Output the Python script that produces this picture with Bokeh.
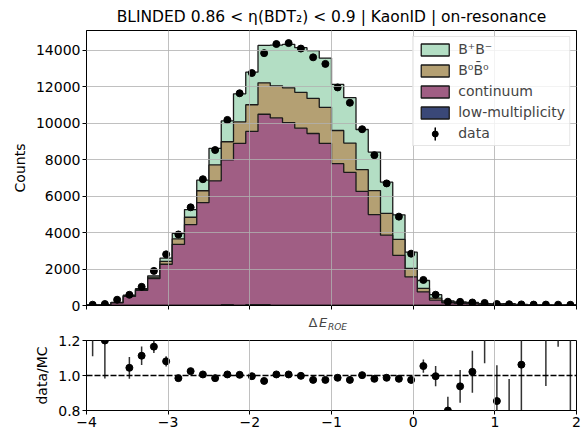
import numpy as np
from bokeh.plotting import figure
from bokeh.layouts import column
from bokeh.models import (Range1d, FixedTicker, Legend, LegendItem, Label, Span,
                          PrintfTickFormatter)
from bokeh.embed import file_html
from bokeh.resources import INLINE

# Binning of the Delta E_ROE histogram
x_lo, x_hi, n_bins = -4.0, 2.0, 40
edges = np.linspace(x_lo, x_hi, n_bins + 1)
centers = 0.5 * (edges[:-1] + edges[1:])

# Simulated components per bin (stacked bottom -> top)
low_mult = [0, 0, 0, 0, 0, 0, 0, 0, 0, 0, 0, 40, 0, 40, 40, 0, 0, 0, 0, 0,
            0, 0, 0, 0, 0, 0, 0, 0, 0, 0, 0, 0, 0, 0, 0, 0, 0, 0, 0, 0]
continuum = [25, 28, 150, 500, 830, 1480, 2260, 3349, 4437, 5635,
             6833, 7937, 8880, 9500, 10440, 10280, 10025, 9720, 9425, 8880,
             7770, 7300, 6250, 4980, 3855, 2750, 1568, 750, 300, 150,
             120, 100, 60, 55, 60, 35, 15, 20, 15, 16]
b0b0bar = [2, 2, 10, 25, 40, 70, 160, 305, 398, 654,
           872, 996, 1180, 1460, 1720, 1760, 1905, 1960, 1925, 1980,
           1820, 1600, 1200, 1320, 1195, 870, 462, 190, 108, 45,
           35, 28, 18, 17, 18, 9, 4, 6, 4, 4]
bpbm = [3, 3, 10, 38, 50, 77, 174, 298, 419, 581,
        910, 1144, 1540, 1785, 2050, 2230, 2380, 2450, 2620, 2700,
        2525, 2490, 2195, 2110, 1710, 1350, 890, 430, 184, 63,
        48, 38, 22, 22, 22, 12, 6, 7, 6, 7]

# Observed data counts per bin
data_counts = [44, 82, 316, 588, 1024, 1895, 2804, 3893, 5380, 6921,
               8520, 10170, 11630, 12740, 13830, 14330, 14380, 14080, 13600, 13240,
               11950, 11110, 9660, 8240, 6690, 4870, 2840, 1400, 590, 207,
               200, 165, 140, 80, 70, 60, 50, 50, 45, 40]

# data/MC ratio and its uncertainty per bin
ratio = [1.32, 1.20, 1.86, 1.044, 1.113, 1.165, 1.081, 0.985, 1.025, 1.006,
         0.985, 1.006, 1.004, 0.996, 0.969, 1.006, 1.006, 0.998, 0.975, 0.975,
         0.987, 0.975, 1.002, 0.981, 0.987, 0.981, 0.975, 1.054, 0.996, 0.80,
         0.938, 1.021, 1.40, 0.854, 0.65, 1.062, 2.0, 1.50, 1.85, 1.50]
ratio_err = [0.21, 0.217, 0.10, 0.062, 0.053, 0.036, 0.029, 0.015, 0.017, 0.012,
             0.011, 0.01, 0.01, 0.01, 0.01, 0.01, 0.01, 0.01, 0.01, 0.01,
             0.011, 0.011, 0.012, 0.013, 0.014, 0.016, 0.02, 0.038, 0.058, 0.079,
             0.094, 0.12, 0.33, 0.204, 0.33, 0.30, 0.50, 0.56, 0.685, 0.80]

x_ticks = [-4, -3, -2, -1, 0, 1, 2]
count_ticks = [0, 2000, 4000, 6000, 8000, 10000, 12000, 14000]
ratio_ticks = [0.8, 1.0, 1.2]

FONT = "DejaVu Sans"
COLORS = {"bpbm": "#b3dec4", "b0b0bar": "#b4a073",
          "continuum": "#a05e84", "low": "#3a4878"}
W = 588
LEFT, RIGHT = 86, 12
MAIN_TOP, MAIN_FRAME_H, MAIN_BOTTOM = 28, 277, 9
FRAME_W = W - LEFT - RIGHT
Y_TOP = 15070
STRIP_H = 18


def step_outline(top):
    xs, ys = [edges[0]], [0.0]
    for i in range(n_bins):
        xs += [edges[i], edges[i + 1]]
        ys += [top[i], top[i]]
    xs.append(edges[-1])
    ys.append(0.0)
    return xs, ys


def px_to_x(px):
    """horizontal frame pixel offset -> x data value"""
    return x_lo + px / FRAME_W * (x_hi - x_lo)


def style_axes(fig):
    for ax in fig.axis:
        ax.axis_line_color = "black"
        ax.major_tick_line_color = "black"
        ax.major_tick_out = 4
        ax.major_tick_in = 0
        ax.minor_tick_line_color = None
        ax.major_label_standoff = 2
        ax.major_label_text_font = FONT
        ax.major_label_text_font_size = "14px"
        ax.major_label_text_color = "black"
        ax.axis_label_text_font = FONT
        ax.axis_label_text_font_size = "14px"
        ax.axis_label_text_font_style = "normal"
        ax.axis_label_text_color = "black"
        ax.axis_label_standoff = 5
    fig.outline_line_color = "black"
    fig.outline_line_alpha = 1.0
    fig.grid.grid_line_color = "#b0b0b0"
    fig.grid.grid_line_alpha = 0.8
    fig.grid.level = "guide"


# ---------------- main histogram panel ----------------
p = figure(width=W, height=MAIN_TOP + MAIN_FRAME_H + MAIN_BOTTOM,
           x_range=Range1d(x_lo, x_hi), y_range=Range1d(0, Y_TOP),
           output_backend="svg", toolbar_location=None,
           min_border_left=LEFT, min_border_right=RIGHT,
           min_border_top=MAIN_TOP, min_border_bottom=MAIN_BOTTOM)
p.title.text = "BLINDED 0.86 < \u03b7(BDT\u2082) < 0.9 | KaonID | on-resonance"
p.title.align = "center"
p.title.text_font = FONT
p.title.text_font_size = "15.5px"
p.title.text_font_style = "normal"
p.title.text_color = "black"

lvl_low = np.array(low_mult, dtype=float)
lvl_cont = lvl_low + np.array(continuum)
lvl_b0 = lvl_cont + np.array(b0b0bar)
lvl_bp = lvl_b0 + np.array(bpbm)

renderers = {}
for key, lvl in [("bpbm", lvl_bp), ("b0b0bar", lvl_b0), ("continuum", lvl_cont), ("low", lvl_low)]:
    xs, ys = step_outline(lvl)
    renderers[key] = p.patch(xs, ys, fill_color=COLORS[key], line_color="#1a1a1a", line_width=1.3)

# data points with Poisson error bars (zero-width ellipses spanning +-sqrt(N))
data_arr = np.array(data_counts, dtype=float)
r_err = p.ellipse(x=centers, y=data_arr, width=1e-6, height=2 * np.sqrt(data_arr),
                  fill_color=None, line_color="black", line_width=1.5)
r_dot = p.scatter(centers, data_arr, size=7, color="black")

p.xaxis.ticker = FixedTicker(ticks=x_ticks)
p.yaxis.ticker = FixedTicker(ticks=count_ticks)
p.yaxis.axis_label = "Counts"
style_axes(p)
p.xaxis.major_label_overrides = {t: "" for t in x_ticks}
p.xaxis.major_label_standoff = 0

legend = Legend(items=[
    LegendItem(label="B\u207aB\u207b", renderers=[renderers["bpbm"]]),
    LegendItem(label="B\u2070B\u0304\u2070", renderers=[renderers["b0b0bar"]]),
    LegendItem(label="continuum", renderers=[renderers["continuum"]]),
    LegendItem(label="low-multiplicity", renderers=[renderers["low"]]),
    LegendItem(label="data", renderers=[r_err, r_dot]),
], location="top_right")
legend.margin = 6
legend.padding = 4
legend.spacing = 5
legend.glyph_width = 35
legend.glyph_height = 15
legend.label_height = 16
legend.label_standoff = 6
legend.label_text_font = FONT
legend.label_text_font_size = "14px"
legend.border_line_color = "#cccccc"
legend.border_line_width = 1
legend.background_fill_alpha = 0.8
p.add_layout(legend, "center")

# ---------------- x-axis title strip: Delta E with ROE subscript ----------------
lab = figure(width=W, height=STRIP_H, x_range=p.x_range, y_range=Range1d(0, STRIP_H),
             title=None, output_backend="svg", toolbar_location=None,
             x_axis_location=None, y_axis_location=None,
             min_border_left=LEFT, min_border_right=RIGHT, min_border_top=0, min_border_bottom=0)
lab.outline_line_color = None
lab.grid.visible = False
lab.background_fill_alpha = 0
lab.border_fill_alpha = 0
lab.add_layout(Label(x=px_to_x(222), y=10, text="\u0394",
                     text_font=FONT, text_font_size="13px", text_baseline="middle"))
lab.add_layout(Label(x=px_to_x(232.5), y=10, text="E",
                     text_font=FONT, text_font_size="13px", text_font_style="italic",
                     text_baseline="middle"))
lab.add_layout(Label(x=px_to_x(241.5), y=5.5, text="ROE",
                     text_font=FONT, text_font_size="9px", text_font_style="italic",
                     text_baseline="middle"))

# ---------------- ratio panel ----------------
r = figure(width=W, height=101, x_range=p.x_range, y_range=Range1d(0.8, 1.2),
           output_backend="svg", toolbar_location=None,
           min_border_left=LEFT, min_border_right=RIGHT, min_border_top=8, min_border_bottom=23)
ratio_arr = np.array(ratio)
err_arr = np.array(ratio_err)
r.segment(centers, ratio_arr - err_arr, centers, ratio_arr + err_arr,
          line_color="#333333", line_width=1.5)
r.scatter(centers, ratio_arr, size=7, color="black")
r.add_layout(Span(location=1.0, dimension="width", line_color="black",
                  line_dash="6 2", line_width=1.5))
r.xaxis.ticker = FixedTicker(ticks=x_ticks)
r.xaxis.major_label_overrides = {t: str(t).replace("-", "\u2212") for t in x_ticks}
r.yaxis.ticker = FixedTicker(ticks=ratio_ticks)
r.yaxis.formatter = PrintfTickFormatter(format="%.1f")
r.yaxis.axis_label = "data/MC"
style_axes(r)
r.ygrid.grid_line_color = None

layout = column(p, lab, r)
open("out.html", "w").write(file_html(layout, INLINE))
